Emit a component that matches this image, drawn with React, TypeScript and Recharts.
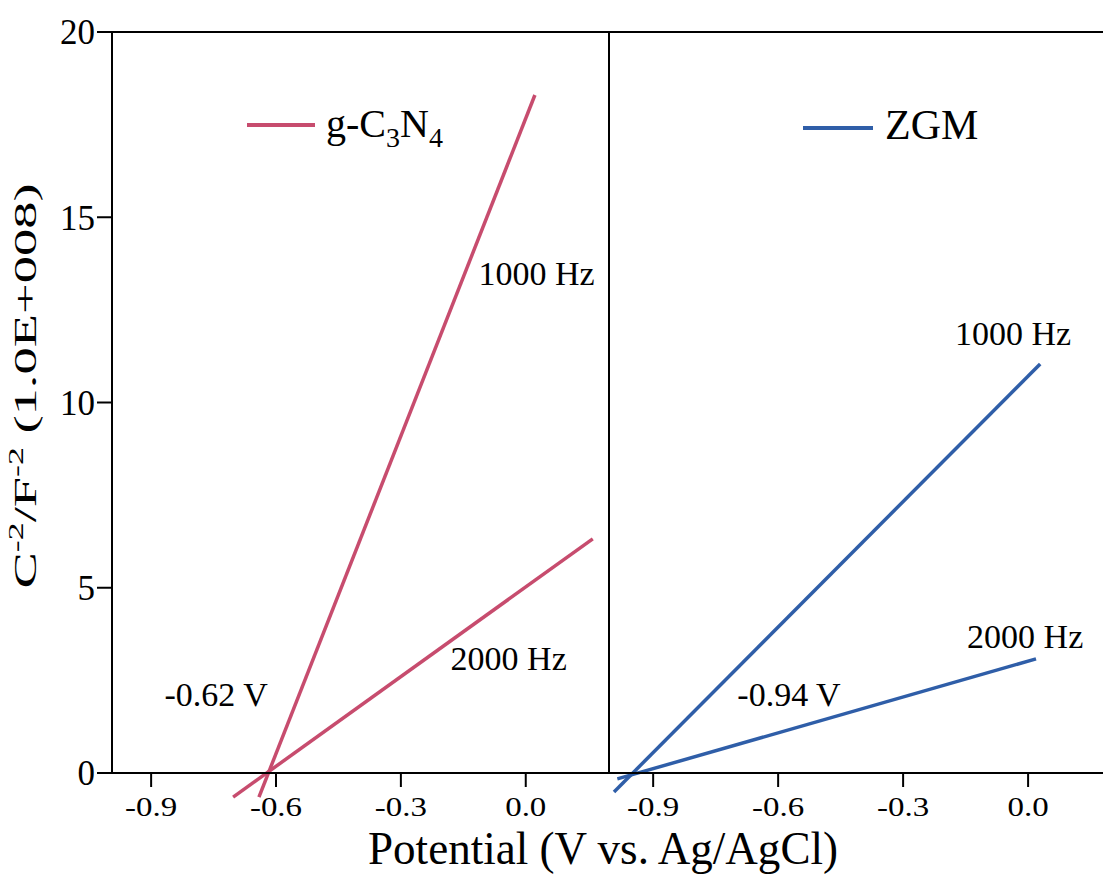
import React from 'react'
import { LineChart, Line, XAxis, YAxis, ReferenceLine, ReferenceDot } from 'recharts'

// Mott-Schottky plots, g-C3N4 (left) and ZGM (right)
const xTicks = [-0.9, -0.6, -0.3, 0.0]
const yTicks = [0, 5, 10, 15, 20]

const gcn1000X = [-0.641, 0.022]
const gcn1000Y = [-0.65, 18.3]
const gcn2000X = [-0.703, 0.161]
const gcn2000Y = [-0.65, 6.32]

const zgm1000X = [-0.994, 0.029]
const zgm1000Y = [-0.51, 11.04]
const zgm2000X = [-0.986, 0.019]
const zgm2000Y = [-0.16, 3.08]

const gcnNotes = [
  { text: '1000 Hz', x: 0.026, y: 13.17 },
  { text: '2000 Hz', x: -0.041, y: 2.78 },
  { text: '-0.62 V', x: -0.744, y: 1.81 },
]
const zgmNotes = [
  { text: '1000 Hz', x: -0.036, y: 11.55 },
  { text: '2000 Hz', x: -0.007, y: 3.37 },
  { text: '-0.94 V', x: -0.574, y: 1.81 },
]

const PINK = '#C74C6E'
const BLUE = '#2F5EA8'
const FONT = '"Liberation Serif", "Times New Roman", serif'

const toPoints = (xs: number[], ys: number[]) => xs.map((x, i) => ({ x, y: ys[i] }))

const XTick = (props: any) => {
  const { x, y, payload } = props
  return (
    <g transform={`translate(${x},${y})`}>
      <text textAnchor="middle" y={27} fontSize={27} fill="#000" transform="scale(1.22,1)">
        {Number(payload.value).toFixed(1)}
      </text>
    </g>
  )
}

const noteShape = (text: string) => (p: any) => (
  <text x={p.cx} y={p.cy} textAnchor="middle" fontSize={34} fill="#000">
    {text}
  </text>
)

interface PanelProps {
  domain: [number, number]
  lines: { key: string; data: { x: number; y: number }[] }[]
  color: string
  notes: { text: string; x: number; y: number }[]
  showY: boolean
  width: number
  margin: { top: number; right: number; bottom: number; left: number }
}

const Panel: React.FC<PanelProps> = ({ domain, lines, color, notes, showY, width, margin }) => (
  <LineChart width={width} height={875} margin={margin}>
    <XAxis
      type="number"
      dataKey="x"
      domain={domain}
      ticks={xTicks}
      allowDataOverflow
      height={60}
      tickSize={14}
      tickMargin={2}
      axisLine={{ stroke: '#000', strokeWidth: 2 }}
      tickLine={{ stroke: '#000', strokeWidth: 2 }}
      tick={<XTick />}
    />
    <YAxis
      type="number"
      dataKey="y"
      domain={[0, 20]}
      ticks={yTicks}
      allowDataOverflow
      hide={!showY}
      width={112}
      tickSize={15}
      tickMargin={2}
      axisLine={{ stroke: '#000', strokeWidth: 2 }}
      tickLine={{ stroke: '#000', strokeWidth: 2 }}
      tick={{ fill: '#000', fontSize: 35 }}
    />
    <ReferenceLine y={20} stroke="#000" strokeWidth={2} />
    {showY && <ReferenceLine x={domain[1]} stroke="#000" strokeWidth={2} />}
    {lines.map((l) => (
      <Line
        key={l.key}
        data={l.data}
        dataKey="y"
        type="linear"
        stroke={color}
        strokeWidth={3.5}
        dot={false}
        activeDot={false}
        isAnimationActive={false}
      />
    ))}
    {notes.map((n) => (
      <ReferenceDot key={n.text} x={n.x} y={n.y} r={0} shape={noteShape(n.text)} />
    ))}
  </LineChart>
)

export default function App() {
  return (
    <div
      className="nc"
      style={{
        position: 'absolute',
        left: 0,
        top: 0,
        width: 1103,
        height: 875,
        overflow: 'hidden',
        background: '#fff',
        fontFamily: FONT,
      }}
    >
      <style>{`.nc .recharts-line, .nc .recharts-line * { clip-path: none !important; }`}</style>
      <div style={{ position: 'absolute', left: 0, top: 0 }}>
        <Panel
          width={620}
          margin={{ top: 32, right: 11, bottom: 42, left: 0 }}
          domain={[-0.994, 0.2]}
          color={PINK}
          showY
          notes={gcnNotes}
          lines={[
            { key: 'g1000', data: toPoints(gcn1000X, gcn1000Y) },
            { key: 'g2000', data: toPoints(gcn2000X, gcn2000Y) },
          ]}
        />
      </div>
      <div style={{ position: 'absolute', left: 560, top: 0 }}>
        <Panel
          width={560}
          margin={{ top: 32, right: 14, bottom: 42, left: 49 }}
          domain={[-1.006, 0.187]}
          color={BLUE}
          showY={false}
          notes={zgmNotes}
          lines={[
            { key: 'z1000', data: toPoints(zgm1000X, zgm1000Y) },
            { key: 'z2000', data: toPoints(zgm2000X, zgm2000Y) },
          ]}
        />
      </div>
      <svg
        width={1103}
        height={875}
        style={{ position: 'absolute', left: 0, top: 0, pointerEvents: 'none' }}
      >
        <line x1={247} x2={315} y1={125} y2={125} stroke={PINK} strokeWidth={4} />
        <text x={326} y={137} fontSize={40} fill="#000">
          g-C<tspan fontSize={28} dy={10}>3</tspan>
          <tspan dy={-10}>N</tspan>
          <tspan fontSize={28} dy={10}>4</tspan>
        </text>
        <line x1={803} x2={873} y1={128} y2={128} stroke={BLUE} strokeWidth={4} />
        <text x={885} y={139} fontSize={42} fill="#000">
          ZGM
        </text>
        <text
          x={603}
          y={864}
          textAnchor="middle"
          fontSize={46}
          textLength={470}
          lengthAdjust="spacingAndGlyphs"
          fill="#000"
        >
          Potential (V vs. Ag/AgCl)
        </text>
        <text
          transform="translate(36,386) rotate(-90)"
          textAnchor="middle"
          fontSize={32}
          textLength={405}
          lengthAdjust="spacingAndGlyphs"
          fill="#000"
        >
          C<tspan fontSize={21} dy={-13}>-2</tspan>
          <tspan dy={13}>/F</tspan>
          <tspan fontSize={21} dy={-13}>-2</tspan>
          <tspan dy={13}> (1.0E+008)</tspan>
        </text>
      </svg>
    </div>
  )
}
